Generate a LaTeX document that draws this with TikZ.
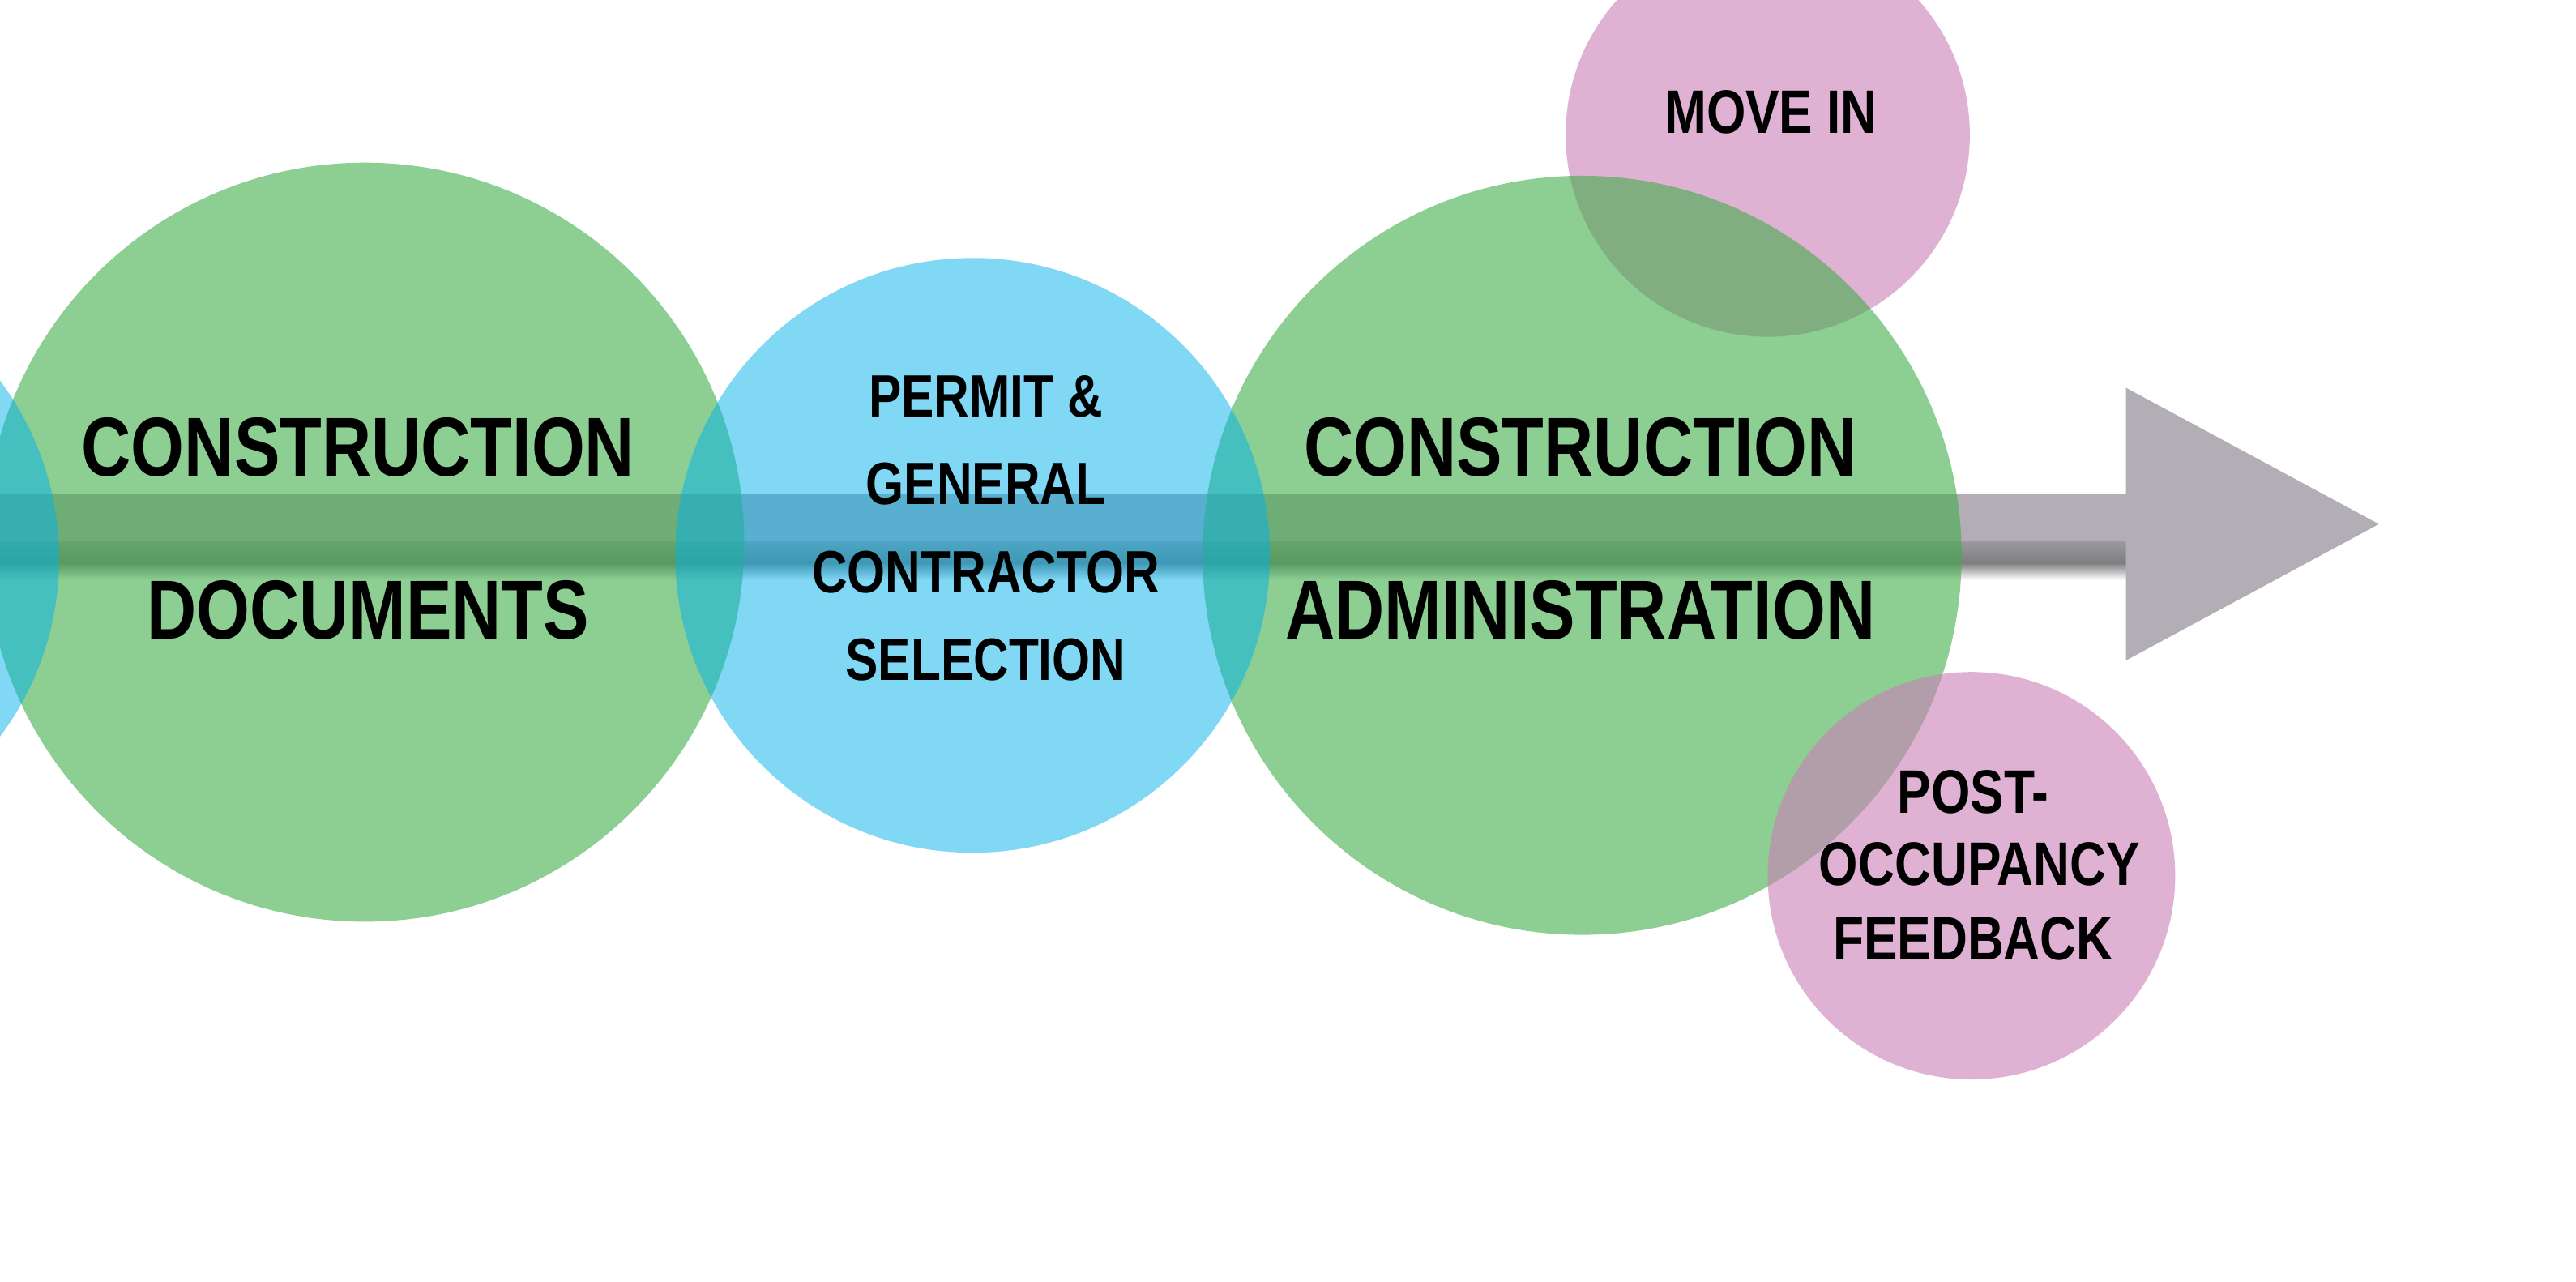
\documentclass[tikz,border=0pt]{standalone}
\usepackage{fontspec}
\newfontfamily\stagefont{Liberation Sans}[FakeStretch=0.82]
\usepackage{tikz}
\definecolor{stagegreen}{RGB}{65,173,75}
\definecolor{stagecyan}{RGB}{1,177,235}
\definecolor{stagepink}{RGB}{202,127,182}
\definecolor{arrowgray}{RGB}{179,174,181}
\definecolor{shadowgray}{RGB}{125,125,128}
\tikzset{
  every picture/.style={line join=round, line cap=round},
  greenball/.style={fill=stagegreen, fill opacity=0.6},
  cyanball/.style={fill=stagecyan, fill opacity=0.5},
  pinkball/.style={fill=stagepink, fill opacity=0.6},
  bigtext/.style={anchor=base, inner sep=0pt, font=\stagefont\bfseries\fontsize{29}{29}\selectfont},
  midtext/.style={anchor=base, inner sep=0pt, font=\stagefont\bfseries\fontsize{20.7}{20.7}\selectfont},
  smalltext/.style={anchor=base, inner sep=0pt, font=\stagefont\bfseries\fontsize{21.3}{21.3}\selectfont},
}

\begin{document}
\begin{tikzpicture}[x=0.02cm, y=-0.02cm]
\useasboundingbox (0,0) rectangle (1568,780);
\clip (0,0) rectangle (1568,780);
% arrow with shadow band
\fill[arrowgray] (-10,301) rectangle (1295,330);
\shade[top color=arrowgray!60!shadowgray, bottom color=shadowgray] (-10,329) rectangle (1295,343);
\shade[top color=shadowgray, bottom color=white] (-10,342.5) rectangle (1295,353);
\fill[arrowgray] (1294,236) -- (1448,319) -- (1294,402) -- cycle;
% circles
\fill[pinkball] (1076,82) circle[radius=123];
\fill[greenball] (222,330) circle[radius=231];
\fill[greenball] (963,338) circle[radius=231];
\fill[cyanball] (-145,340) circle[radius=181];
\fill[cyanball] (592,338) circle[radius=181];
\fill[pinkball] (1200,533) circle[radius=124];
% labels
\node[bigtext] (cdtop) at (218,290) {CONSTRUCTION};
\node[bigtext] (cdbot) at (224,389) {DOCUMENTS};
\node[midtext] (permit) at (600,254) {PERMIT \&};
\node[midtext] (general) at (600,307) {GENERAL};
\node[midtext] (contractor) at (600,361) {CONTRACTOR};
\node[midtext] (selection) at (600,414) {SELECTION};
\node[bigtext] (catop) at (962,290) {CONSTRUCTION};
\node[bigtext] (cabot) at (962,389) {ADMINISTRATION};
\node[smalltext] (movein) at (1078,81) {MOVE IN};
\node[smalltext] (post) at (1201,495) {POST-};
\node[smalltext] (occupancy) at (1205,539) {OCCUPANCY};
\node[smalltext] (feedback) at (1201,584) {FEEDBACK};
\end{tikzpicture}
\end{document}
